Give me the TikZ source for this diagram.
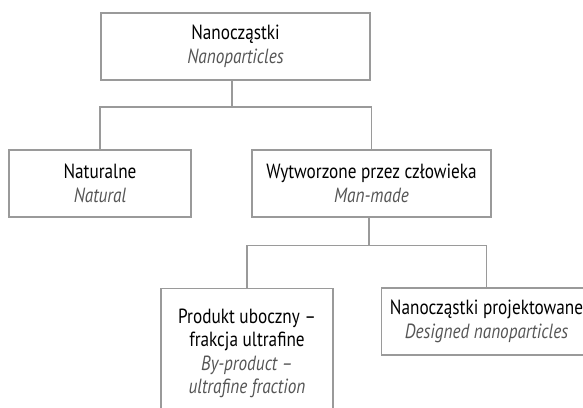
\documentclass[tikz,border=0pt]{standalone}
\usepackage{fontspec}
\setmainfont[FakeStretch=0.84]{PT Sans}
\usepackage{tikz}
\usetikzlibrary{positioning}
\definecolor{boxgray}{HTML}{9A9A9A}
\definecolor{engray}{HTML}{555555}
\newcommand{\en}[1]{{\color{engray}\itshape #1}}

\begin{document}
\begin{tikzpicture}[x=1pt,y=-1pt,
        box/.style={draw=boxgray,line width=1.4pt,align=center,inner sep=0pt,
                    font=\fontsize{20.5}{23.5}\selectfont,text=black},
        conn/.style={draw=boxgray,line width=1.4pt}]
    \clip (0,0) rectangle (583,407);
    \useasboundingbox (0,0) rectangle (583,407);

    \node[box,minimum width=269,minimum height=67] (nano) at (235.5,46.5)
        {Nanocząstki\\\en{Nanoparticles}};
    \node[box,minimum width=182,minimum height=67] (nat)  at (100,183.5)
        {Naturalne\\\en{Natural}};
    \node[box,minimum width=239,minimum height=67] (man)  at (371.5,183.5)
        {Wytworzone przez człowieka\\\en{Man-made}};
    \node[box,minimum width=172,minimum height=129,anchor=north] (prod) at (247,288)
        {Produkt uboczny --\\frakcja ultrafine\\\en{By-product --}\\\en{ultrafine fraction}};
    \node[box,minimum width=210,minimum height=67] (des)  at (486.5,321.5)
        {Nanocząstki projektowane\\\en{Designed nanoparticles}};

    \coordinate (j1) at (232,107);
    \coordinate (j2) at (369,245.5);

    \draw[conn] (nano.south -| j1) -- (j1);
    \draw[conn] (nat.north) |- (j1) -| (man.north);
    \draw[conn] (man.south -| j2) -- (j2);
    \draw[conn] (prod.north) |- (j2) -| (des.north);
\end{tikzpicture}
\end{document}
